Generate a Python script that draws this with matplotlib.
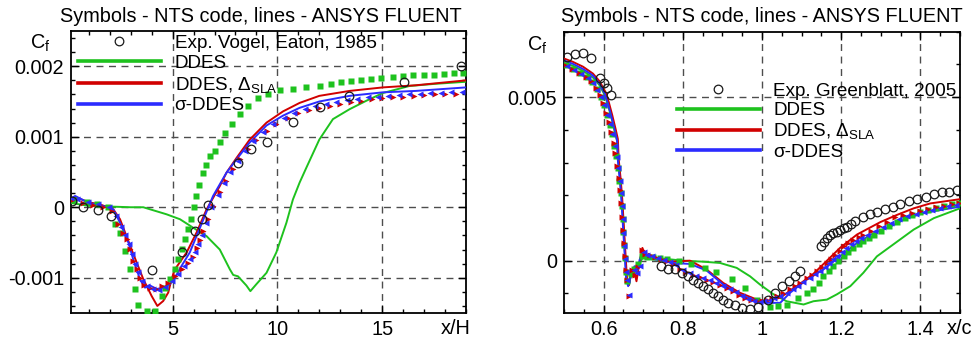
import matplotlib
matplotlib.use("Agg")
import matplotlib.pyplot as plt
from matplotlib.lines import Line2D
from matplotlib.ticker import MultipleLocator

plt.rcParams['font.family'] = ['Liberation Sans', 'DejaVu Sans']
plt.rcParams['mathtext.fontset'] = 'custom'
plt.rcParams['mathtext.rm'] = 'Liberation Sans'
plt.rcParams['mathtext.it'] = 'Liberation Sans'

GREEN = '#1ec21e'
RED = '#d10000'
BLUE = '#2b2bff'

# ---------------- left panel: backward facing step, x/H ----------------
exp_l_x = [0.19, 0.74, 1.43, 2.05, 4.01, 5.46, 6.05, 6.40, 6.68, 8.12, 8.76,
           9.48, 10.74, 12.04, 13.42, 16.04, 18.78]
exp_l_y = [0.00009, 0.00001, -0.00004, -0.00013, -0.00089, -0.00063, -0.00034,
           -0.00016, 0.00003, 0.00063, 0.00083, 0.00092, 0.00121, 0.00142,
           0.00158, 0.00177, 0.00200]

# FLUENT lines
fl_ddes_l_x = [0.15, 1.0, 2.0, 3.0, 3.6, 4.71, 5.35, 5.98, 6.62, 7.25, 7.73,
               7.89, 8.12, 8.52, 8.71, 9.0, 9.48, 9.95, 10.43, 10.74, 11.06,
               11.38, 12.0, 12.65, 13.44, 14.24, 15.03, 16.3, 17.5, 19.0]
fl_ddes_l_y = [0.00006, 0.00002, 0.00001, 0.0, 0.0, -0.0001, -0.00017, -0.00029,
               -0.00041, -0.0006, -0.00088, -0.00096, -0.00098, -0.00111,
               -0.00119, -0.00109, -0.00093, -0.00064, -0.00022, 0.00011,
               0.00035, 0.00056, 0.00096, 0.00125, 0.00139, 0.00151, 0.00162,
               0.00172, 0.00175, 0.00178]

fl_sla_l_x = [0.15, 0.4, 1.0, 1.54, 2.17, 2.49, 2.81, 3.12, 3.6, 4.0, 4.27, 4.55,
              4.79, 4.95, 5.11, 5.67, 6.14, 6.62, 7.25, 7.57, 8.05, 8.68, 9.48,
              10.27, 11.06, 12.0, 13.44, 15.03, 16.6, 19.0]
fl_sla_l_y = [0.00011, 0.00014, 0.00007, 0.00004, -0.00003, -0.00017, -0.00042,
              -0.00066, -0.00102, -0.00126, -0.0014, -0.00133, -0.00121,
              -0.00102, -0.00088, -0.00064, -0.00036, -0.00003, 0.0003, 0.00049,
              0.0007, 0.00096, 0.0012, 0.00136, 0.00148, 0.00158, 0.00165,
              0.0017, 0.00173, 0.0018]

fl_sig_l_x = [0.15, 0.35, 1.0, 1.54, 2.17, 2.49, 2.89, 3.12, 3.44, 3.68, 3.92,
              4.24, 4.55, 4.87, 5.11, 5.43, 5.82, 6.14, 6.54, 6.93, 7.57, 8.05,
              8.68, 9.48, 10.27, 11.06, 12.0, 13.44, 15.03, 16.6, 19.0]
fl_sig_l_y = [0.00012, 0.00016, 0.00006, 0.00003, -0.00003, -0.00022, -0.0005,
              -0.00074, -0.00102, -0.00114, -0.00111, -0.00116, -0.00114,
              -0.00109, -0.001, -0.00083, -0.00064, -0.00041, -0.00012, 0.00016,
              0.00049, 0.00068, 0.00092, 0.00116, 0.0013, 0.00141, 0.0015,
              0.00158, 0.00163, 0.00165, 0.0017]

# NTS symbols
nts_ddes_l_x = [0.3, 0.9, 1.4, 1.9, 2.25, 2.49, 2.73, 2.97, 3.2, 3.36, 3.76,
                4.16, 4.48, 4.63, 4.87, 5.11, 5.27, 5.43, 5.59, 5.74, 5.9, 6.0,
                6.1, 6.25, 6.43, 6.6, 6.78, 7.01, 7.25, 7.49, 7.81, 8.2, 8.6,
                9.08, 9.55, 10.11, 10.74, 11.38, 12.01, 12.57, 13.05, 13.52,
                14.0, 14.48, 14.95, 15.5, 15.98, 16.46, 17.01, 17.49, 17.97,
                18.44, 18.87]
nts_ddes_l_y = [0.0001, 0.00007, 0.00004, 0.0, -0.00024, -0.00036, -0.00062,
                -0.00088, -0.00116, -0.00139, -0.00147, -0.00147, -0.00126,
                -0.00114, -0.00102, -0.00088, -0.00074, -0.00059, -0.00045,
                -0.00031, -0.00017, 0.0, 0.00016, 0.00032, 0.00048, 0.0006,
                0.00072, 0.0008, 0.00092, 0.00106, 0.00118, 0.00132, 0.00143,
                0.00155, 0.0016, 0.00166, 0.00168, 0.0017, 0.00172, 0.00175,
                0.00177, 0.00179, 0.0018, 0.00182, 0.00184, 0.00185, 0.00186,
                0.00187, 0.00187, 0.00188, 0.00189, 0.0019, 0.00191]

nts_sla_l_x = [0.2, 0.7, 1.2, 1.7, 2.1, 2.41, 2.65, 2.81, 2.97, 3.12, 3.28,
               3.45, 3.65, 3.9, 4.2, 4.5, 4.8, 5.1, 5.43, 5.75, 5.98, 6.14, 6.3,
               6.46, 6.7, 6.93, 7.25, 7.57, 7.89, 8.2, 8.6, 9.0, 9.48, 9.95,
               10.5, 11.0, 11.5, 12.0, 12.5, 13.0, 13.5, 14.0, 14.5, 15.0, 15.5,
               16.0, 16.5, 17.0, 17.5, 18.0, 18.5]
nts_sla_l_y = [0.0001, 0.00006, 0.00003, 0.0, -0.00005, -0.00024, -0.00036,
               -0.00045, -0.00059, -0.00076, -0.00088, -0.001, -0.0011,
               -0.00114, -0.00116, -0.00112, -0.00107, -0.00098, -0.00088,
               -0.00079, -0.00071, -0.00058, -0.00046, -0.00034, -0.00017,
               0.00002, 0.00021, 0.00037, 0.00054, 0.00068, 0.00082, 0.00096,
               0.00108, 0.00118, 0.00127, 0.00133, 0.00138, 0.00141, 0.00144,
               0.00147, 0.00149, 0.00151, 0.00153, 0.00155, 0.00156, 0.00157,
               0.00158, 0.00159, 0.0016, 0.0016, 0.00161]

nts_sig_l_x = [0.15, 0.45, 0.95, 1.45, 1.95, 2.3, 2.55, 2.75, 2.9, 3.05, 3.2,
               3.35, 3.55, 3.8, 4.05, 4.35, 4.65, 4.95, 5.25, 5.55, 5.85, 6.05,
               6.2, 6.38, 6.6, 6.85, 7.15, 7.45, 7.75, 8.1, 8.45, 8.85, 9.3, 9.8,
               10.3, 10.8, 11.3, 11.8, 12.3, 12.8, 13.3, 13.8, 14.3, 14.8, 15.3,
               15.8, 16.3, 16.8, 17.3, 17.8, 18.3, 18.8]
nts_sig_l_y = [0.00013, 0.00011, 0.00007, 0.00004, 0.0, -0.00012, -0.00028,
               -0.0004, -0.00052, -0.00066, -0.0008, -0.00092, -0.00104,
               -0.00112, -0.00116, -0.00117, -0.00113, -0.00104, -0.00094,
               -0.00084, -0.00074, -0.00064, -0.00052, -0.0004, -0.00022, 0.0,
               0.00018, 0.00035, 0.0005, 0.00066, 0.0008, 0.00094, 0.00107,
               0.00118, 0.00127, 0.00134, 0.0014, 0.00144, 0.00147, 0.0015,
               0.00152, 0.00154, 0.00156, 0.00157, 0.00158, 0.00159, 0.0016,
               0.00161, 0.00162, 0.00162, 0.00163, 0.00163]

# ---------------- right panel: hump, x/c ----------------
exp_r_x = [0.507, 0.527, 0.548, 0.569, 0.59, 0.60, 0.608, 0.619, 0.746, 0.763,
           0.78, 0.797, 0.813, 0.826, 0.839, 0.851, 0.864, 0.877, 0.889, 0.902,
           0.915, 0.932, 0.949, 0.970, 0.991, 1.016, 1.033, 1.05, 1.067, 1.084,
           1.097, 1.149, 1.157, 1.164, 1.172, 1.18, 1.189, 1.197, 1.206, 1.214,
           1.225, 1.235, 1.256, 1.272, 1.29, 1.311, 1.332, 1.349, 1.37, 1.392,
           1.413, 1.434, 1.455, 1.472, 1.493]
exp_r_y = [0.00624, 0.00632, 0.00634, 0.0062, 0.00559, 0.00543, 0.00529,
           0.00505, -0.00017, -0.00027, -0.00027, -0.00037, -0.00048, -0.00058,
           -0.00068, -0.00078, -0.00088, -0.00098, -0.00109, -0.00119, -0.00129,
           -0.00137, -0.00144, -0.00147, -0.00141, -0.00119, -0.00098, -0.00078,
           -0.00063, -0.00048, -0.00033, 0.00046, 0.00058, 0.00069, 0.00077,
           0.00084, 0.00089, 0.00094, 0.00099, 0.00104, 0.00112, 0.0012,
           0.00135, 0.00142, 0.0015, 0.00157, 0.00165, 0.00173, 0.00183,
           0.0019, 0.00196, 0.00203, 0.00209, 0.00211, 0.00216]

fl_ddes_r_x = [0.5, 0.522, 0.548, 0.573, 0.59, 0.603, 0.611, 0.62, 0.628, 0.634,
               0.637, 0.642, 0.646, 0.65, 0.654, 0.658, 0.663, 0.67, 0.68, 0.69,
               0.7, 0.706, 0.733, 0.76, 0.8, 0.85, 0.894, 0.936, 0.97, 0.995,
               1.029, 1.062, 1.105, 1.13, 1.164, 1.189, 1.223, 1.256, 1.29,
               1.332, 1.383, 1.434, 1.5]
fl_ddes_r_y = [0.00605, 0.00596, 0.0058, 0.0056, 0.00536, 0.00506, 0.00476,
               0.00436, 0.00396, 0.00366, 0.00305, 0.00245, 0.00185, 0.00104,
               0.00023, -0.00055, -0.00075, -0.0004, -0.0002, -0.0001, 0.00012,
               0.0001, 0.00008, 0.00005, 0.0, -0.00003, -0.00007, -0.00022,
               -0.00048, -0.00073, -0.00103, -0.00124, -0.00134, -0.00124,
               -0.00119, -0.00103, -0.00078, -0.00037, 0.00013, 0.0005, 0.00095,
               0.0013, 0.0016]

fl_sla_r_x = [0.5, 0.522, 0.548, 0.573, 0.59, 0.605, 0.613, 0.622, 0.63, 0.636,
              0.638, 0.643, 0.647, 0.651, 0.655, 0.659, 0.664, 0.67, 0.676,
              0.683, 0.69, 0.698, 0.706, 0.733, 0.775, 0.818, 0.86, 0.902,
              0.944, 0.987, 1.012, 1.046, 1.088, 1.13, 1.164, 1.197, 1.24,
              1.299, 1.341, 1.383, 1.425, 1.5]
fl_sla_r_y = [0.00618, 0.00608, 0.00593, 0.00572, 0.00548, 0.00515, 0.00485,
              0.00444, 0.00404, 0.00372, 0.00312, 0.0025, 0.0019, 0.00108,
              0.00026, -0.00055, -0.00075, -0.0003, -0.00025, -0.00063, -0.0001,
              0.00039, 0.00015, 0.00005, -0.00003, 0.0, -0.00027, -0.00068,
              -0.00098, -0.00119, -0.00124, -0.00113, -0.00078, -0.0004, 0.0,
              0.00039, 0.0008, 0.00118, 0.0014, 0.0016, 0.00175, 0.00188]

fl_sig_r_x = [0.5, 0.522, 0.548, 0.573, 0.59, 0.603, 0.611, 0.62, 0.628, 0.634,
              0.636, 0.641, 0.645, 0.649, 0.653, 0.657, 0.662, 0.67, 0.678,
              0.687, 0.691, 0.698, 0.704, 0.733, 0.775, 0.818, 0.86, 0.902,
              0.944, 0.987, 1.012, 1.046, 1.071, 1.113, 1.155, 1.197, 1.24,
              1.282, 1.324, 1.366, 1.408, 1.451, 1.5]
fl_sig_r_y = [0.00612, 0.00602, 0.00586, 0.00566, 0.00541, 0.0051, 0.0048,
              0.00439, 0.00399, 0.00368, 0.00307, 0.00246, 0.00186, 0.00104,
              0.00023, -0.00058, -0.00078, -0.00043, -0.00017, -0.00027,
              0.00003, 0.00023, 0.00008, 0.00003, -0.00007, -0.0001, -0.0003,
              -0.00073, -0.00103, -0.00124, -0.00129, -0.00129, -0.00098,
              -0.00058, -0.00027, 0.00013, 0.00054, 0.00084, 0.00104, 0.0013,
              0.00145, 0.00155, 0.00165]

nts_ddes_r_x = [0.505, 0.523, 0.541, 0.558, 0.571, 0.583, 0.593, 0.601, 0.609,
                0.616, 0.622, 0.627, 0.632, 0.637, 0.64, 0.643, 0.646, 0.648,
                0.65, 0.652, 0.654, 0.657, 0.66, 0.668, 0.678, 0.688, 0.698,
                0.71, 0.725, 0.742, 0.759, 0.79, 0.82, 0.855, 0.885, 0.923,
                0.957, 0.987, 1.02, 1.04, 1.062, 1.092, 1.113, 1.13, 1.143,
                1.155, 1.168, 1.18, 1.193, 1.206, 1.218, 1.231, 1.244, 1.256,
                1.27, 1.282, 1.3, 1.32, 1.34, 1.36, 1.38, 1.4, 1.42, 1.44, 1.46,
                1.48, 1.497]
nts_ddes_r_y = [0.00597, 0.00586, 0.00574, 0.0056, 0.00546, 0.00524, 0.005,
                0.00476, 0.00446, 0.00416, 0.00386, 0.00352, 0.0032, 0.00282,
                0.00244, 0.00206, 0.00168, 0.00127, 0.00087, 0.00047, 0.00008,
                -0.00035, -0.00062, -0.0004, -0.00025, -0.0001, 0.00015, 0.00012,
                0.0001, 0.00008, 0.00005, 0.0, -0.0001, -0.00022, -0.00035,
                -0.00056, -0.00083, -0.00119, -0.00141, -0.0014, -0.00137,
                -0.00114, -0.001, -0.00088, -0.00068, -0.00048, -0.00032,
                -0.00017, -0.00002, 0.00013, 0.00026, 0.00039, 0.0005, 0.00059,
                0.0007, 0.00079, 0.0009, 0.00105, 0.00118, 0.0013, 0.0014,
                0.00148, 0.00155, 0.00161, 0.00167, 0.00172, 0.00176]

nts_sla_r_x = [0.502, 0.52, 0.538, 0.555, 0.568, 0.58, 0.59, 0.598, 0.606,
               0.613, 0.619, 0.625, 0.63, 0.635, 0.639, 0.642, 0.645, 0.647,
               0.649, 0.651, 0.653, 0.656, 0.658, 0.664, 0.672, 0.68, 0.688,
               0.697, 0.705, 0.716, 0.73, 0.745, 0.76, 0.775, 0.792, 0.809,
               0.826, 0.843, 0.86, 0.877, 0.894, 0.911, 0.928, 0.943, 0.957,
               0.972, 0.987, 1.0, 1.012, 1.025, 1.037, 1.054, 1.071, 1.084,
               1.096, 1.113, 1.126, 1.139, 1.152, 1.164, 1.175, 1.185, 1.196,
               1.206, 1.218, 1.231, 1.244, 1.256, 1.275, 1.295, 1.315, 1.335,
               1.356, 1.378, 1.4, 1.42, 1.44, 1.46, 1.48, 1.497]
nts_sla_r_y = [0.00598, 0.00585, 0.00575, 0.00562, 0.00549, 0.00528, 0.00506,
               0.00482, 0.00452, 0.00424, 0.00394, 0.0036, 0.00328, 0.0029,
               0.00252, 0.00215, 0.00177, 0.00135, 0.00094, 0.00054, 0.00013,
               -0.0003, -0.00058, -0.00107, -0.0003, -0.00045, -0.0002, 0.00033,
               0.0002, 0.00018, 0.0001, 0.00005, 0.0, -0.0001, -0.00027,
               -0.00035, -0.00043, -0.0005, -0.00058, -0.00065, -0.00073,
               -0.00083, -0.00093, -0.00104, -0.00114, -0.0012, -0.00124,
               -0.00122, -0.00119, -0.00114, -0.00109, -0.00098, -0.00088,
               -0.00078, -0.00068, -0.00053, -0.00043, -0.00033, -0.0002,
               -0.00007, 0.00006, 0.00018, 0.00031, 0.00044, 0.00054, 0.00064,
               0.00072, 0.00079, 0.00092, 0.00105, 0.00118, 0.00132, 0.0014,
               0.00146, 0.00152, 0.00158, 0.00163, 0.00168, 0.00172, 0.00177]

nts_sig_r_x = [0.508, 0.526, 0.544, 0.56, 0.573, 0.584, 0.594, 0.602, 0.609,
               0.616, 0.622, 0.628, 0.633, 0.637, 0.641, 0.644, 0.646, 0.648,
               0.65, 0.652, 0.655, 0.657, 0.66, 0.665, 0.676, 0.684, 0.693,
               0.701, 0.71, 0.723, 0.737, 0.752, 0.767, 0.783, 0.8, 0.817,
               0.834, 0.851, 0.868, 0.885, 0.902, 0.919, 0.935, 0.95, 0.965,
               0.98, 0.994, 1.006, 1.019, 1.031, 1.045, 1.062, 1.078, 1.09,
               1.104, 1.12, 1.133, 1.146, 1.158, 1.17, 1.18, 1.19, 1.201, 1.212,
               1.225, 1.238, 1.25, 1.265, 1.285, 1.305, 1.325, 1.346, 1.367,
               1.389, 1.41, 1.43, 1.45, 1.47, 1.49]
nts_sig_r_y = [0.00594, 0.00583, 0.00572, 0.00558, 0.00544, 0.00522, 0.00499,
               0.00475, 0.00446, 0.00418, 0.00388, 0.00352, 0.00318, 0.00282,
               0.00244, 0.00206, 0.00166, 0.00126, 0.00086, 0.00046, 0.00004,
               -0.00036, -0.0006, -0.00106, -0.00028, -0.00038, -0.00015,
               0.00028, 0.00018, 0.00014, 0.00008, 0.00003, -0.00003, -0.00013,
               -0.0003, -0.00038, -0.00046, -0.00053, -0.0006, -0.00068,
               -0.00076, -0.00086, -0.00097, -0.00107, -0.00116, -0.00122,
               -0.00125, -0.00123, -0.00119, -0.00115, -0.00108, -0.00098,
               -0.00088, -0.00078, -0.00066, -0.00052, -0.00042, -0.00031,
               -0.00019, -0.00007, 0.00004, 0.00015, 0.00027, 0.00039, 0.0005,
               0.0006, 0.00068, 0.00077, 0.0009, 0.00103, 0.00116, 0.00128,
               0.00137, 0.00144, 0.0015, 0.00156, 0.00161, 0.00166, 0.00171]

legend_labels_l = ['Exp. Vogel, Eaton, 1985', 'DDES', r'DDES, $\Delta_{\mathrm{SLA}}$', '\u03c3-DDES']
legend_labels_r = ['Exp. Greenblatt, 2005', 'DDES', r'DDES, $\Delta_{\mathrm{SLA}}$', '\u03c3-DDES']
title = 'Symbols - NTS code, lines - ANSYS FLUENT'

FS = 14.3      # ticks, title, axis names
FS_LEG = 13.6  # legend

fig = plt.figure(figsize=(9.76, 3.43), dpi=100)
axl = fig.add_axes([71 / 976, 30 / 343, 395 / 976, 282 / 343])
axr = fig.add_axes([564 / 976, 30 / 343, 396 / 976, 281.3 / 343])


def style(ax):
    ax.grid(True, which='major', color='0.3', ls=(0, (5, 4)), lw=1.0)
    ax.set_axisbelow(True)
    ax.tick_params(which='both', direction='in', top=True, right=True,
                   labelsize=FS, pad=5, width=1)
    ax.tick_params(which='major', length=6)
    ax.tick_params(which='minor', length=3)
    for s in ax.spines.values():
        s.set_linewidth(1.3)


def draw(ax, ex, ey, sq, rt, lt, gl, rl, bl):
    ax.plot(*gl, color=GREEN, lw=1.4, zorder=3)
    ax.plot(*rl, color=RED, lw=1.4, zorder=3)
    ax.plot(*bl, color=BLUE, lw=1.4, zorder=3)
    ax.plot(*sq, ls='none', marker='s', ms=4.3, color=GREEN, mec='none', zorder=4)
    ax.plot(*rt, ls='none', marker='>', ms=4.6, color=RED, mec='none', zorder=4)
    ax.plot(*lt, ls='none', marker='<', ms=4.6, color=BLUE, mec='none', zorder=4)
    ax.plot(ex, ey, ls='none', marker='o', ms=6.2, mfc='none', mec='0.1',
            mew=0.9, zorder=5)


draw(axl, exp_l_x, exp_l_y,
     (nts_ddes_l_x, nts_ddes_l_y), (nts_sla_l_x, nts_sla_l_y), (nts_sig_l_x, nts_sig_l_y),
     (fl_ddes_l_x, fl_ddes_l_y), (fl_sla_l_x, fl_sla_l_y), (fl_sig_l_x, fl_sig_l_y))
draw(axr, exp_r_x, exp_r_y,
     (nts_ddes_r_x, nts_ddes_r_y), (nts_sla_r_x, nts_sla_r_y), (nts_sig_r_x, nts_sig_r_y),
     (fl_ddes_r_x, fl_ddes_r_y), (fl_sla_r_x, fl_sla_r_y), (fl_sig_r_x, fl_sig_r_y))

style(axl)
axl.set_xlim(0.15, 19)
axl.set_ylim(-0.0015, 0.0025)
axl.set_xticks([5, 10, 15], ['5', '10', '15'])
axl.set_yticks([-0.001, 0, 0.001, 0.002], ['-0.001', '0', '0.001', '0.002'])
axl.xaxis.set_minor_locator(MultipleLocator(1))
axl.yaxis.set_minor_locator(MultipleLocator(0.0002))

style(axr)
axr.set_xlim(0.5, 1.5)
axr.set_ylim(-0.0016, 0.007)
axr.set_xticks([0.6, 0.8, 1.0, 1.2, 1.4], ['0.6', '0.8', '1', '1.2', '1.4'])
axr.set_yticks([0, 0.005], ['0', '0.005'])
axr.xaxis.set_minor_locator(MultipleLocator(0.05))
axr.yaxis.set_minor_locator(MultipleLocator(0.001))


def handles():
    return [Line2D([], [], ls='none', marker='o', ms=6.2, mfc='none', mec='0.1', mew=0.9),
            Line2D([], [], color=GREEN, lw=2.6),
            Line2D([], [], color=RED, lw=2.6),
            Line2D([], [], color=BLUE, lw=2.6)]


axl.legend(handles(), legend_labels_l, loc='upper left', bbox_to_anchor=(0.008, 1.0),
           frameon=False, fontsize=FS_LEG, handlelength=4.4, handletextpad=0.72,
           labelspacing=0.14, borderaxespad=0, borderpad=0.2)
axr.legend(handles(), legend_labels_r, loc='upper left', bbox_to_anchor=(0.275, 0.833),
           frameon=False, fontsize=FS_LEG, handlelength=4.4, handletextpad=0.72,
           labelspacing=0.12, borderaxespad=0, borderpad=0.2)

fig.text(261 / 976, 1 - 16 / 343, title, ha='center', va='center', fontsize=FS)
fig.text(762 / 976, 1 - 16 / 343, title, ha='center', va='center', fontsize=FS)
fig.text(40 / 976, 1 - 43 / 343, r'C$_{\mathrm{f}}$', ha='center', va='center', fontsize=FS)
fig.text(537 / 976, 1 - 45 / 343, r'C$_{\mathrm{f}}$', ha='center', va='center', fontsize=FS)
fig.text(456 / 976, 1 - 328 / 343, 'x/H', ha='center', va='center', fontsize=FS)
fig.text(960 / 976, 1 - 328 / 343, 'x/c', ha='center', va='center', fontsize=FS)

fig.savefig('out.png', dpi=100)
